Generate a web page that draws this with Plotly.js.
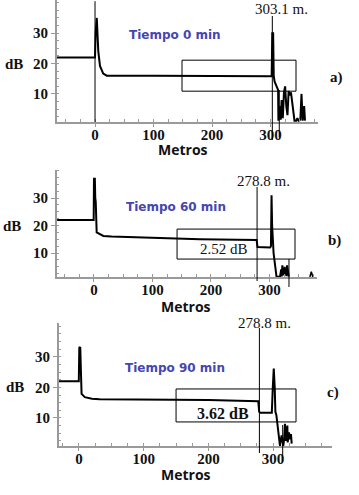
<!DOCTYPE html>
<html>
<head>
<meta charset="utf-8">
<script src="https://cdn.plot.ly/plotly-3.0.1.min.js"></script>
<style>html,body{margin:0;padding:0;background:#fff;}#chart{width:359px;height:495px;}</style>
</head>
<body>
<div id="chart"></div>
<script>
// ---- Data (metros, dB) ----
var metrosA = [-65, 0, 1, 3, 5.6, 8.5, 14, 20, 100, 200, 302, 303, 304.5, 305.5, 307, 313, 313.5, 316, 317.5, 319, 321, 323, 325, 327, 329, 331, 333, 335, 337, 339, 341, 344, 346, 348, 351, 353, 355, 357.5, 359];
var dbA     = [22, 22, 30, 35, 24, 19.2, 16.7, 16.0, 16.0, 15.9, 15.8, 30, 30, 16, 14, 11.3, 1.2, 6, 1.5, 8, 2, 10.5, 12.5, 6, 3, 11, 9.5, 10.5, 7, 4, 1.2, 1.2, 2, 1.2, 1.5, 10, 1.2, 6, 1.2];

var metrosB = [-63, -0.5, 0, 1.5, 2.2, 3, 4.6, 10, 16, 30, 56, 96, 140, 181, 230, 278, 279.5, 284, 301, 302.5, 303.5, 304.5, 305.5, 307, 312, 318, 320, 321, 322, 323, 324, 325, 326, 327, 328, 329, 330, 332, 333];
var dbB     = [22, 22, 37, 37, 30, 28.7, 17.5, 16.8, 16.2, 16.0, 15.9, 15.5, 15.3, 15.0, 14.85, 14.7, 12.2, 12.1, 12.0, 12.5, 31, 20, 14, 9.9, 1.4, 1.4, 4, 1.5, 5.5, 2, 4.5, 1.8, 5, 2.5, 3.5, 1.6, 5.5, 1.4, 1.4];
var metrosB2 = [369, 371.5, 374];
var dbB2     = [1.3, 3.2, 1.3];

var metrosC = [-31, -0.3, 0.5, 2, 3, 4, 9, 20, 32, 100, 200, 277, 278.5, 280, 298, 299.5, 301, 302.5, 303.5, 305, 307, 309, 310.6, 313.1, 315.7, 317, 318.3, 320, 321, 322, 322.5, 324.6, 326, 327.6, 328.7];
var dbC     = [22, 22, 33.2, 33, 25, 17.9, 16.8, 16.3, 16.1, 16.0, 15.9, 15.5, 12, 11.7, 11.7, 20, 26.2, 20, 12, 11, 8, 4, 0.9, 4.3, 0.9, 3, 8.1, 2.5, 5.9, 7.5, 2, 5.3, 3, 4.7, 1.6];

var xTickVals = [0, 100, 200, 300];
var xTickText = ['0', '100', '200', '300'];
var yTickVals = [10, 20, 30];
var yTickText = ['10', '20', '30'];

var tiempos = ['Tiempo 0 min', 'Tiempo 60 min', 'Tiempo 90 min'];
var marcas = ['303.1 m.', '278.8 m.', '278.8 m.'];
var marcaMetros = [303.1, 278.8, 278.8];
var perdidas = ['', '2.52 dB', '3.62 dB'];
var letras = ['a)', 'b)', 'c)'];

// ---- Layout geometry (pixels) ----
var W = 359, H = 495;
function px(x) { return x / W; }
function py(y) { return 1 - y / H; }

var xRanges = [[-65, 381.2], [-63.2, 381.2], [-30.9, 391]];
var yRanges = [[0.76, 40.9], [1.27, 40.2], [0.82, 41.1]];
var xDom = [[57, 318], [57, 317], [59, 332]];
var yDom = [[122, 0], [277, 170], [446, 323]];

function xp(i, v) {
  var r = xRanges[i], d = xDom[i];
  return px(d[0] + (v - r[0]) / (r[1] - r[0]) * (d[1] - d[0]));
}

var serif = 'Liberation Serif';
var sans = 'DejaVu Sans';
var axisGrey = '#9a9a9a';

function xAxis(i) {
  return {
    domain: [px(xDom[i][0]), px(xDom[i][1])],
    range: xRanges[i],
    anchor: 'y' + (i ? i + 1 : ''),
    showline: true, linecolor: axisGrey, linewidth: 2,
    showgrid: false, zeroline: false,
    ticks: 'outside', ticklen: 3, tickcolor: axisGrey, tickwidth: 1,
    ticklabelstandoff: -5,
    tickmode: 'array', tickvals: xTickVals, ticktext: xTickText,
    tickfont: {family: serif, size: 15, color: '#111', weight: 'bold'},
    minor: {ticks: 'inside', dtick: 25, ticklen: 3, tickcolor: axisGrey},
    fixedrange: true
  };
}
function yAxis(i) {
  return {
    domain: [py(yDom[i][0]), py(yDom[i][1])],
    range: yRanges[i],
    anchor: 'x' + (i ? i + 1 : ''),
    showline: true, linecolor: axisGrey, linewidth: 2,
    showgrid: false, zeroline: false,
    ticks: 'outside', ticklen: 4, tickcolor: axisGrey, tickwidth: 1,
    tickmode: 'array', tickvals: yTickVals, ticktext: yTickText,
    tickfont: {family: serif, size: 15, color: '#111', weight: 'bold'},
    minor: {ticks: 'inside', dtick: 2.5, ticklen: 2, tickcolor: axisGrey},
    fixedrange: true
  };
}

var lineStyle = {color: '#000', width: 2};
var traces = [
  {x: metrosA, y: dbA, xaxis: 'x', yaxis: 'y', mode: 'lines', line: lineStyle, hoverinfo: 'none'},
  {x: metrosB, y: dbB, xaxis: 'x2', yaxis: 'y2', mode: 'lines', line: lineStyle, hoverinfo: 'none'},
  {x: metrosB2, y: dbB2, xaxis: 'x2', yaxis: 'y2', mode: 'lines', line: {color: '#000', width: 1.5}, hoverinfo: 'none'},
  {x: metrosC, y: dbC, xaxis: 'x3', yaxis: 'y3', mode: 'lines', line: lineStyle, hoverinfo: 'none'}
];

var thin = {color: '#000', width: 1};
var shapes = [
  // panel a
  {type: 'line', xref: 'x', yref: 'y', x0: 0, x1: 0, y0: 0.76, y1: 40.5, line: thin},
  {type: 'line', xref: 'paper', yref: 'paper', x0: xp(0, marcaMetros[0]), x1: xp(0, marcaMetros[0]), y0: py(16), y1: py(140), line: thin},
  {type: 'line', xref: 'paper', yref: 'paper', x0: xp(0, 315), x1: xp(0, 315), y0: py(90), y1: py(137), line: thin},
  {type: 'rect', xref: 'x', yref: 'y', x0: 148.7, x1: 343.6, y0: 10.9, y1: 21.1, line: thin},
  // panel b
  {type: 'line', xref: 'paper', yref: 'paper', x0: xp(1, marcaMetros[1]), x1: xp(1, marcaMetros[1]), y0: py(187), y1: py(281), line: thin},
  {type: 'line', xref: 'paper', yref: 'paper', x0: xp(1, 333.3), x1: xp(1, 333.3), y0: py(259), y1: py(287), line: thin},
  {type: 'rect', xref: 'x2', yref: 'y2', x0: 142, x1: 343.6, y0: 7.8, y1: 18.7, line: thin},
  // panel c
  {type: 'line', xref: 'paper', yref: 'paper', x0: xp(2, marcaMetros[2]), x1: xp(2, marcaMetros[2]), y0: py(328), y1: py(453), line: thin},
  {type: 'line', xref: 'paper', yref: 'paper', x0: xp(2, 314.8), x1: xp(2, 314.8), y0: py(425), y1: py(462), line: thin},
  {type: 'rect', xref: 'x3', yref: 'y3', x0: 150, x1: 335.4, y0: 8.7, y1: 19.5, line: thin}
];

function ann(text, x, y, font) {
  return {text: text, xref: 'paper', yref: 'paper', x: px(x), y: py(y),
          xanchor: 'center', yanchor: 'middle', showarrow: false, font: font};
}
var tFont = {family: sans, size: 12, color: '#4646b0', weight: 'bold'};
var mFont = {family: 'Open Sans', size: 14, color: '#111', weight: 'bold'};
var dbFont = {family: serif, size: 15, color: '#111', weight: 'bold'};
var markFont = {family: serif, size: 15, color: '#111'};
var letterFont = {family: serif, size: 15, color: '#111', weight: 'bold'};

var annotations = [
  ann(tiempos[0], 175, 35, tFont),
  ann(marcas[0], 281, 9, markFont),
  ann(letras[0], 336, 77, letterFont),
  ann('dB', 14, 64, dbFont),
  ann('Metros', 183, 150, mFont),

  ann(tiempos[1], 176, 207, tFont),
  ann(marcas[1], 263, 181, markFont),
  ann(perdidas[1], 224, 249, markFont),
  ann(letras[1], 334, 240, letterFont),
  ann('dB', 12, 226, dbFont),
  ann('Metros', 186, 306, mFont),

  ann(tiempos[2], 175, 368, tFont),
  ann(marcas[2], 264, 323, markFont),
  ann(perdidas[2], 223, 413, {family: serif, size: 16, color: '#111', weight: 'bold'}),
  ann(letras[2], 333, 392, letterFont),
  ann('dB', 15, 387, dbFont),
  ann('Metros', 186, 474, mFont)
];

var layout = {
  width: W, height: H,
  margin: {l: 0, r: 0, t: 0, b: 0},
  paper_bgcolor: '#fff', plot_bgcolor: 'rgba(0,0,0,0)',
  showlegend: false,
  xaxis: xAxis(0), yaxis: yAxis(0),
  xaxis2: xAxis(1), yaxis2: yAxis(1),
  xaxis3: xAxis(2), yaxis3: yAxis(2),
  shapes: shapes,
  annotations: annotations
};

Plotly.newPlot('chart', traces, layout, {displayModeBar: false, staticPlot: true});
</script>
</body>
</html>
